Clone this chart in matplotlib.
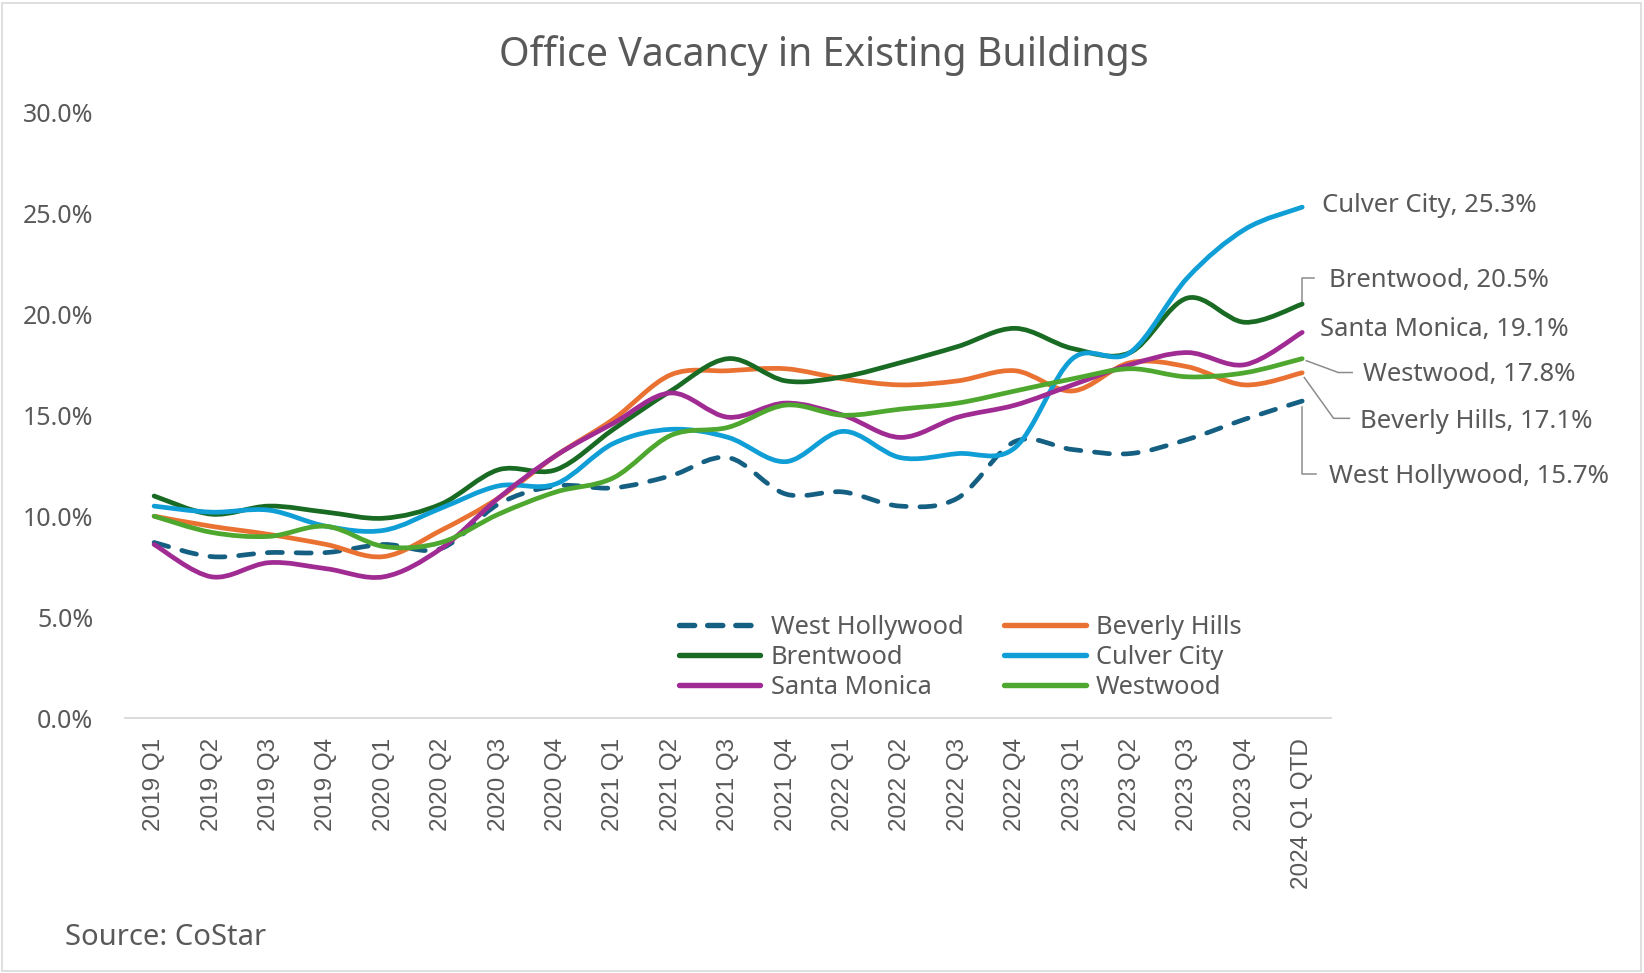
import matplotlib
matplotlib.use("Agg")
import matplotlib.pyplot as plt
import matplotlib.transforms as mtransforms
from matplotlib.path import Path
from matplotlib.patches import PathPatch, Rectangle
from matplotlib.lines import Line2D
import numpy as np

# ---------------- data ----------------
quarters = ['2019 Q1', '2019 Q2', '2019 Q3', '2019 Q4', '2020 Q1', '2020 Q2',
            '2020 Q3', '2020 Q4', '2021 Q1', '2021 Q2', '2021 Q3', '2021 Q4',
            '2022 Q1', '2022 Q2', '2022 Q3', '2022 Q4', '2023 Q1', '2023 Q2',
            '2023 Q3', '2023 Q4', '2024 Q1 QTD']

west_hollywood = [8.7, 8.0, 8.2, 8.2, 8.6, 8.4, 10.6, 11.5, 11.4, 12.0, 12.9,
                  11.1, 11.2, 10.5, 10.9, 13.7, 13.3, 13.1, 13.8, 14.8, 15.7]
beverly_hills = [10.0, 9.5, 9.1, 8.6, 8.0, 9.3, 10.9, 13.0, 14.8, 17.0, 17.2,
                 17.3, 16.8, 16.5, 16.7, 17.2, 16.2, 17.6, 17.4, 16.5, 17.1]
brentwood = [11.0, 10.1, 10.5, 10.2, 9.9, 10.6, 12.3, 12.3, 14.3, 16.2, 17.8,
             16.7, 16.9, 17.6, 18.4, 19.3, 18.3, 18.1, 20.8, 19.6, 20.5]
culver_city = [10.5, 10.2, 10.3, 9.5, 9.3, 10.4, 11.5, 11.6, 13.6, 14.3, 13.9,
               12.7, 14.2, 12.9, 13.1, 13.4, 17.8, 18.1, 21.8, 24.2, 25.3]
santa_monica = [8.6, 7.0, 7.7, 7.4, 7.0, 8.4, 10.9, 13.0, 14.6, 16.1, 14.9,
                15.6, 15.0, 13.9, 14.9, 15.5, 16.5, 17.5, 18.1, 17.5, 19.1]
westwood = [10.0, 9.2, 9.0, 9.5, 8.5, 8.7, 10.1, 11.2, 11.9, 14.0, 14.4,
            15.5, 15.0, 15.3, 15.6, 16.2, 16.8, 17.3, 16.9, 17.1, 17.8]

series_names = ['West Hollywood', 'Beverly Hills', 'Brentwood',
                'Culver City', 'Santa Monica', 'Westwood']
series_values = [west_hollywood, beverly_hills, brentwood,
                 culver_city, santa_monica, westwood]
series_colors = ['#156082', '#E97132', '#196B24', '#0F9ED5', '#A02B93', '#4EA72E']

y_ticks = [0, 5, 10, 15, 20, 25, 30]
y_tick_labels = [f"{v:.1f}%" for v in y_ticks]

# ---------------- style ----------------
TXT = '#595959'
FONT = ['Noto Sans', 'DejaVu Sans']
LW = 3.4
DASH = (3.2, 2.9)

W, H = 1644, 973
fig = plt.figure(figsize=(W / 100, H / 100), dpi=100)
fig.patch.set_facecolor('white')

ax = fig.add_axes([125.4 / W, 1 - 718.2 / H, 1205.5 / W, 606 / H])
ax.set_xlim(-0.5, len(quarters) - 0.5)
ax.set_ylim(0, 30)
for s in ['top', 'right', 'left']:
    ax.spines[s].set_visible(False)
ax.spines['bottom'].set_color('#d9d9d9')
ax.spines['bottom'].set_linewidth(1.3)

ax.set_yticks(y_ticks)
ax.set_yticklabels(y_tick_labels, fontsize=18, color=TXT, family=FONT)
ax.tick_params(axis='y', length=0, pad=23)
ax.set_xticks(range(len(quarters)))
ax.set_xticklabels(quarters, rotation=90, fontsize=17.5, color=TXT,
                   family=['Liberation Sans', 'DejaVu Sans'])
ax.tick_params(axis='x', length=0, pad=14)


def smooth_path(xs, ys):
    """Excel-like smoothed line: cubic Bezier segments through every data point."""
    pts = np.column_stack([xs, ys]).astype(float)
    n = len(pts)
    verts = [pts[0]]
    codes = [Path.MOVETO]
    for i in range(n - 1):
        p0 = pts[i - 1] if i > 0 else pts[i]
        p1 = pts[i]
        p2 = pts[i + 1]
        p3 = pts[i + 2] if i + 2 < n else pts[i + 1]
        c1 = p1 + (p2 - p0) / 6.0
        c2 = p2 - (p3 - p1) / 6.0
        verts += [c1, c2, p2]
        codes += [Path.CURVE4, Path.CURVE4, Path.CURVE4]
    return Path(verts, codes)


xs = np.arange(len(quarters))
handle_map = {}
for name, vals, col in zip(series_names, series_values, series_colors):
    dashed = name == 'West Hollywood'
    patch = PathPatch(smooth_path(xs, vals), facecolor='none', edgecolor=col,
                      lw=LW, capstyle='round', joinstyle='round',
                      linestyle=(0, DASH) if dashed else '-', zorder=3)
    ax.add_patch(patch)
    if dashed:
        h = Line2D([], [], color=col, lw=LW + 0.5, dashes=(2.8, 2.4),
                   dash_capstyle='round')
    else:
        h = Line2D([], [], color=col, lw=LW + 0.5, solid_capstyle='round')
    handle_map[name] = h

# legend: entries read row-wise (2 per row), matplotlib fills column-wise
legend_order = ['West Hollywood', 'Brentwood', 'Santa Monica',
                'Beverly Hills', 'Culver City', 'Westwood']
leg = fig.legend([handle_map[n] for n in legend_order], legend_order, ncol=2,
                 frameon=False, loc='upper left',
                 bbox_to_anchor=(679 / W, 1 - 615 / H),
                 borderpad=0, borderaxespad=0, handlelength=3.2,
                 handletextpad=0.4, columnspacing=1.62, labelspacing=0.2,
                 prop={'family': FONT, 'size': 18.3})
for t in leg.get_texts():
    t.set_color(TXT)

# end-of-line labels with leader lines (offsets in points)
label_offsets = {
    'Culver City': ((14, -3.2), None),
    'Brentwood': ((19.5, 12.4), [(0, 0), (0, 19), (8.5, 19)]),
    'Santa Monica': ((13, -2.3), None),
    'Westwood': ((44, -16.4), [(3, -1.5), (26, -10), (36, -10)]),
    'Beverly Hills': ((41.5, -39.4), [(1.5, -3.4), (22.6, -32.8), (34, -32.8)]),
    'West Hollywood': ((19.5, -59.1), [(0, -4), (0, -52.5), (9.8, -52.5)]),
}
last = len(quarters) - 1
for name, vals in zip(series_names, series_values):
    (dx, dy), leader = label_offsets[name]
    v = vals[-1]
    ax.annotate(f"{name}, {v:.1f}%", xy=(last, v), xytext=(dx, dy),
                textcoords='offset points', ha='left', va='baseline',
                fontsize=18.5, color=TXT, family=FONT, annotation_clip=False)
    if leader:
        tr = (mtransforms.Affine2D().scale(1 / 72.0) + fig.dpi_scale_trans +
              mtransforms.ScaledTranslation(last, v, ax.transData))
        lx, ly = zip(*leader)
        ln = Line2D(lx, ly, transform=tr, color='#8c8c8c', lw=1.1,
                    clip_on=False, zorder=2)
        ax.add_line(ln)

# title and source
fig.text(823.6 / W, 1 - 66 / H, 'Office Vacancy in Existing Buildings',
         ha='center', va='baseline', fontsize=28.3, color=TXT, family=FONT)
fig.text(65 / W, 1 - 945 / H, 'Source: CoStar', ha='left', va='baseline',
         fontsize=21, color=TXT, family=FONT)

# chart border
fig.add_artist(Rectangle((2 / W, 2 / H), 1 - 5 / W, 1 - 5 / H,
                         transform=fig.transFigure, fill=False,
                         edgecolor='#d9d9d9', lw=1.2))

fig.savefig('out.png', dpi=100, facecolor='white')
